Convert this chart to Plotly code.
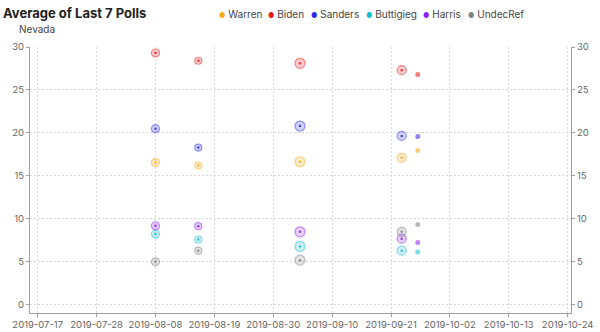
import plotly.graph_objects as go

# ---- data ----
dates = ["2019-08-08", "2019-08-16", "2019-09-04", "2019-09-23", "2019-09-26"]
candidates = ["Warren", "Biden", "Sanders", "Buttigieg", "Harris", "UndecRef"]
warren = [16.55, 16.2, 16.65, 17.1, 17.95]
biden = [29.3, 28.4, 28.1, 27.3, 26.8]
sanders = [20.5, 18.3, 20.8, 19.65, 19.6]
buttigieg = [8.25, 7.6, 6.8, 6.3, 6.15]
harris = [9.2, 9.15, 8.5, 7.7, 7.25]
undecref = [5.0, 6.3, 5.2, 8.5, 9.35]
x_ticks = ["2019-07-17", "2019-07-28", "2019-08-08", "2019-08-19", "2019-08-30",
           "2019-09-10", "2019-09-21", "2019-10-02", "2019-10-13", "2019-10-24"]
y_ticks = [0, 5, 10, 15, 20, 25, 30]

series = [warren, biden, sanders, buttigieg, harris, undecref]

# ---- style ----
rgb = {
    "Warren": (245, 170, 20),
    "Biden": (240, 25, 25),
    "Sanders": (45, 45, 230),
    "Buttigieg": (20, 190, 210),
    "Harris": (140, 35, 240),
    "UndecRef": (130, 130, 130),
}
sizes = [8, 7, 10, 9, 5]

W, H = 600, 332
ML, MR, MT, MB = 30, 29, 47, 19
PW, PH = W - ML - MR, H - MT - MB

fig = go.Figure()
for name, vals in zip(candidates, series):
    r, g, b = rgb[name]
    fills = [f"rgba({r},{g},{b},0.3)"] * 4 + [f"rgba({r},{g},{b},0.8)"]
    lines = [f"rgba({r},{g},{b},0.75)"] * 4 + [f"rgba({r},{g},{b},0)"]
    fig.add_trace(go.Scatter(
        x=dates, y=vals, mode="markers", name=name, showlegend=False,
        marker=dict(size=sizes, symbol="circle", color=fills,
                    line=dict(color=lines, width=1.2)),
        cliponaxis=False,
    ))
    # center dots of the ringed markers
    fig.add_trace(go.Scatter(
        x=dates[:4], y=vals[:4], mode="markers", name=name, showlegend=False,
        marker=dict(size=2.5, symbol="circle", color=f"rgba({r},{g},{b},0.85)",
                    line=dict(width=0)),
        cliponaxis=False, hoverinfo="skip",
    ))

# invisible trace to drive the right-hand axis
fig.add_trace(go.Scatter(x=[dates[0]], y=[biden[0]], yaxis="y2", mode="markers",
                         marker=dict(opacity=0), showlegend=False, hoverinfo="skip"))

tickfont = dict(family="Inter", size=9.5, color="#666")
axis_common = dict(showline=True, linecolor="#a0a0a0", linewidth=1,
                   ticks="outside", ticklen=3, tickcolor="#a0a0a0",
                   tickfont=tickfont, zeroline=False, automargin=False)

fig.update_layout(
    width=W, height=H,
    margin=dict(l=ML, r=MR, t=MT, b=MB, autoexpand=False),
    paper_bgcolor="white", plot_bgcolor="white",
    showlegend=False,
    font=dict(family="Inter", color="#444"),
    title=dict(text="<b>Average of Last 7 Polls</b>", x=3 / W, xanchor="left",
               y=1 - 13 / H, yanchor="middle", xref="container", yref="container",
               automargin=False,
               font=dict(family="Inter", size=13, color="#222")),
    xaxis=dict(type="date", range=["2019-07-15 13:30", "2019-10-24 15:00"],
               tickvals=x_ticks, ticktext=x_ticks, ticklabelstandoff=0,
               showgrid=True, gridcolor="#d8d8d8", griddash="2px,2px", gridwidth=1,
               **axis_common),
    yaxis=dict(range=[-0.95, 30], tickvals=y_ticks,
               showgrid=True, gridcolor="#d8d8d8", griddash="2px,2px", gridwidth=1,
               **axis_common),
    yaxis2=dict(range=[-0.95, 30], tickvals=y_ticks, overlaying="y", side="right",
                showgrid=False, **axis_common),
)

# subtitle
fig.add_annotation(text="Nevada", xref="paper", yref="paper",
                   x=(17 - ML) / PW, y=(H - MB - 29) / PH, xanchor="left", yanchor="middle",
                   showarrow=False, font=dict(family="Inter", size=10, color="#444"))

# legend (dot + label)
legend_x = [217, 266, 309, 364, 421, 466]
for name, lx in zip(candidates, legend_x):
    r, g, b = rgb[name]
    fig.add_annotation(
        text=f"<span style='font-size:7px;color:rgb({r},{g},{b})'>●</span> {name}",
        xref="paper", yref="paper", x=(lx - ML) / PW, y=(H - MB - 14) / PH,
        xanchor="left", yanchor="middle", showarrow=False,
        font=dict(family="Inter", size=10, color="#444"))

fig.write_html("out.html")
